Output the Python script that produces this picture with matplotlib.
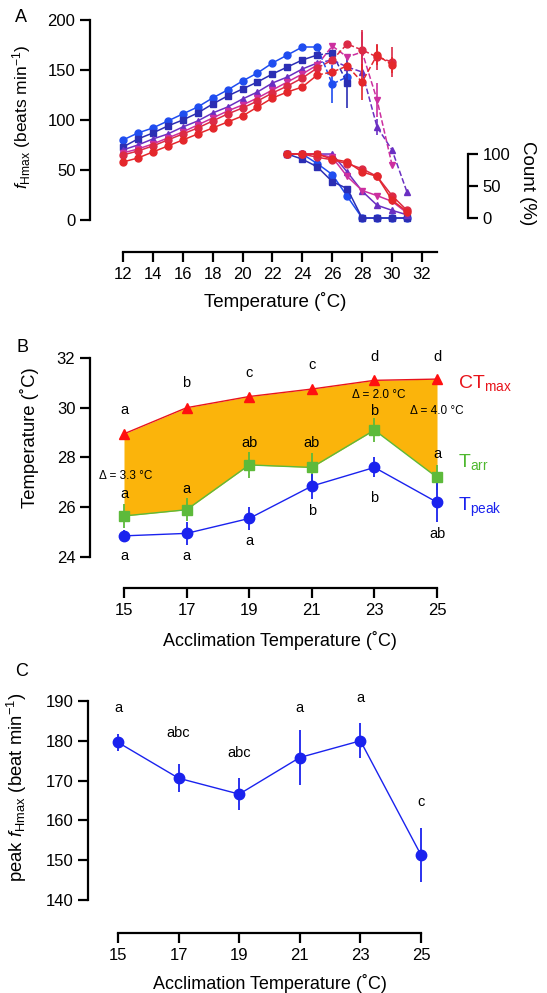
import matplotlib
matplotlib.use('Agg')
import matplotlib.pyplot as plt

plt.rcParams['font.family'] = ['Liberation Sans', 'DejaVu Sans']
plt.rcParams['mathtext.fontset'] = 'custom'
plt.rcParams['mathtext.rm'] = 'Liberation Sans'
plt.rcParams['mathtext.it'] = 'Liberation Sans:italic'
plt.rcParams['font.size'] = 12

# ---- panel A data: fHmax vs test temperature, one series per acclimation temp
temp_15 = [12, 13, 14, 15, 16, 17, 18, 19, 20, 21, 22, 23, 24, 25, 26, 27]
fh_15 = [80, 87, 92, 99, 106, 113, 122, 130, 139, 147, 157, 165, 173, 173, 136, 143]
temp_17 = [12, 13, 14, 15, 16, 17, 18, 19, 20, 21, 22, 23, 24, 25, 26, 27]
fh_17 = [73, 81, 87, 94, 100, 107, 116, 124, 131, 138, 146, 153, 160, 165, 167, 137]
temp_19 = [12, 13, 14, 15, 16, 17, 18, 19, 20, 21, 22, 23, 24, 25, 26, 27, 28, 29, 30, 31]
fh_19 = [70, 75, 81, 86, 93, 99, 107, 113, 121, 128, 137, 143, 151, 157, 160, 153, 148, 93, 70, 28]
temp_21 = [12, 13, 14, 15, 16, 17, 18, 19, 20, 21, 22, 23, 24, 25, 26, 27, 28, 29, 30]
fh_21 = [67, 71, 76, 82, 88, 95, 102, 109, 115, 122, 130, 138, 146, 155, 174, 163, 168, 120, 55]
temp_23 = [12, 13, 14, 15, 16, 17, 18, 19, 20, 21, 22, 23, 24, 25, 26, 27, 28, 29, 30]
fh_23 = [65, 69, 74, 80, 86, 92, 99, 106, 112, 119, 127, 134, 142, 152, 160, 176, 170, 163, 158]
temp_25 = [12, 13, 14, 15, 16, 17, 18, 19, 20, 21, 22, 23, 24, 25, 26, 27, 28, 29, 30]
fh_25 = [58, 62, 68, 74, 80, 86, 92, 98, 104, 113, 122, 128, 133, 145, 148, 154, 138, 165, 155]

# error bars shown only on the high-temperature points
err_t_15, err_15 = [26], [19]
err_t_17, err_17 = [27], [25]
err_t_19, err_19 = [29], [8]
err_t_21, err_21 = [28, 29], [20, 17]
err_t_23, err_23 = [28, 29, 30], [20, 13, 15]
err_t_25, err_25 = [28, 29, 30], [18, 10, 8]

# count (%) of fish still responding
count_temp = [23, 24, 25, 26, 27, 28, 29, 30, 31]
count_15 = [100, 100, 85, 68, 34, 0, 0, 0, 0]
count_17 = [100, 92, 80, 57, 46, 0, 0, 0, 0]
count_19 = [100, 100, 100, 100, 72, 42, 20, 12, 5]
count_21 = [100, 100, 100, 95, 65, 43, 35, 26, 8]
count_23 = [100, 100, 95, 91, 85, 77, 65, 35, 12]
count_25 = [100, 100, 100, 92, 88, 72, 65, 28, 10]

# ---- panel B data
accl = [15, 17, 19, 21, 23, 25]
ctmax = [28.95, 30.0, 30.45, 30.75, 31.1, 31.15]
tarr = [25.65, 25.9, 27.7, 27.6, 29.1, 27.2]
tarr_err = [0.5, 0.47, 0.53, 0.6, 0.47, 0.5]
tpeak = [24.85, 24.95, 25.55, 26.85, 27.6, 26.2]
tpeak_err = [0.25, 0.45, 0.45, 0.5, 0.4, 0.8]
ct_letters = ['a', 'b', 'c', 'c', 'd', 'd']
ct_letter_y = [29.91, 30.98, 31.38, 31.72, 32.05, 32.05]
arr_letters = ['a', 'a', 'ab', 'ab', 'b', 'a']
arr_letter_y = [26.54, 26.73, 28.57, 28.57, 29.87, 28.14]
peak_letters = ['a', 'a', 'a', 'b', 'b', 'ab']
peak_letter_y = [24.06, 24.06, 24.66, 25.83, 26.37, 24.93]
delta_text = ['Δ = 3.3 °C', 'Δ = 2.0 °C', 'Δ = 4.0 °C']
delta_x = [15.05, 23.15, 25.0]
delta_y = [27.25, 30.5, 29.87]

# ---- panel C data
peak_fh = [179.6, 170.6, 166.6, 175.8, 180.0, 151.3]
peak_fh_err = [2.2, 3.5, 4.0, 6.8, 4.4, 6.9]
c_letters = ['a', 'abc', 'abc', 'a', 'a', 'c']
c_letter_y = [188.2, 182.0, 177.0, 188.2, 190.7, 164.6]

colors = ['#1F4DF0', '#2B2EB4', '#6A2FC2', '#CC2F9F', '#DC2A45', '#E4272B']
markers = ['o', 's', '^', 'v', 'o', 'o']
split = 25

fig = plt.figure(figsize=(5.47, 9.93), dpi=100)


def style_axis(ax):
    ax.spines['top'].set_visible(False)
    ax.spines['right'].set_visible(False)
    for s in ['left', 'bottom']:
        ax.spines[s].set_linewidth(1.6)
    ax.tick_params(direction='out', length=7, width=1.6, labelsize=12)


# ---------------- Panel A
axA = fig.add_axes([90 / 547, 1 - 252 / 993, 378 / 547, 237 / 993])
axA.set_xlim(9.8, 35.08)
axA.set_ylim(-32, 205)
style_axis(axA)
axA.spines['left'].set_bounds(0, 200)
axA.spines['bottom'].set_bounds(12, 33)
axA.set_yticks([0, 50, 100, 150, 200])
axA.set_xticks([12, 14, 16, 18, 20, 22, 24, 26, 28, 30, 32])
axA.patch.set_alpha(0)

series = [
    (temp_15, fh_15, err_t_15, err_15, count_15),
    (temp_17, fh_17, err_t_17, err_17, count_17),
    (temp_19, fh_19, err_t_19, err_19, count_19),
    (temp_21, fh_21, err_t_21, err_21, count_21),
    (temp_23, fh_23, err_t_23, err_23, count_23),
    (temp_25, fh_25, err_t_25, err_25, count_25),
]

axA2 = axA.twinx()
axA2.set_ylim(-53.1, 317.3)
axA2.set_xlim(9.8, 35.08)
for s in ['top', 'left', 'bottom']:
    axA2.spines[s].set_visible(False)
axA2.spines['right'].set_bounds(0, 100)
axA2.spines['right'].set_linewidth(1.6)
axA2.set_yticks([0, 50, 100])
axA2.tick_params(direction='out', length=7, width=1.6, labelsize=12)
axA2.set_ylabel('Count (%)', rotation=270, fontsize=13.5)
axA2.yaxis.set_label_coords(1.18, 0.29)

for (t, fh, et, ev, cnt), c, m in zip(series, colors, markers):
    ts = [x for x in t if x <= split]
    fs = fh[:len(ts)]
    td = t[len(ts) - 1:]
    fd = fh[len(ts) - 1:]
    axA.plot(ts, fs, '-', color=c, lw=1.1)
    axA.plot(td, fd, '--', color=c, lw=1.1)
    axA.plot(t, fh, m, color=c, ms=5, mec=c)
    ey = [fh[t.index(x)] for x in et]
    axA.errorbar(et, ey, yerr=ev, fmt='none', ecolor=c, elinewidth=1.2)
    axA2.plot(count_temp, cnt, '-', color=c, lw=1.1, marker=m, ms=5)

axA.set_ylabel(r'$f_{\mathrm{Hmax}}$ (beats min$^{-1}$)', fontsize=12.5)
axA.yaxis.set_label_coords(-0.15, 0.57)
axA.set_xlabel('Temperature (˚C)', fontsize=13.5)
axA.xaxis.set_label_coords(0.489, -0.168)

# ---------------- Panel B
axB = fig.add_axes([90 / 547, 1 - 588 / 993, 378 / 547, 243 / 993])
axB.set_xlim(13.914, 25.99)
axB.set_ylim(22.755, 32.52)
style_axis(axB)
axB.spines['left'].set_bounds(24, 32)
axB.spines['bottom'].set_bounds(15, 25)
axB.set_yticks([24, 26, 28, 30, 32])
axB.set_xticks(accl)

axB.fill_between(accl, tarr, ctmax, color='#FBB40B', lw=0, zorder=1)
axB.plot(accl, ctmax, '-', color='#E8141B', lw=1.0, zorder=3)
axB.plot(accl, ctmax, '^', color='#FF1010', ms=6.5, zorder=4)
axB.errorbar(accl, tarr, yerr=tarr_err, fmt='s-', color='#5DBA3B', ms=7.5,
             lw=1.0, elinewidth=1.3, zorder=3)
axB.errorbar(accl, tpeak, yerr=tpeak_err, fmt='o-', color='#1A22EE', ms=7.5,
             lw=1.0, elinewidth=1.3, zorder=3)

for x, lab, y in zip(accl, ct_letters, ct_letter_y):
    axB.text(x, y, lab, ha='center', va='center', fontsize=10.5)
for x, lab, y in zip(accl, arr_letters, arr_letter_y):
    axB.text(x, y, lab, ha='center', va='center', fontsize=10.5)
for x, lab, y in zip(accl, peak_letters, peak_letter_y):
    axB.text(x, y, lab, ha='center', va='center', fontsize=10.5)
for lab, x, y in zip(delta_text, delta_x, delta_y):
    axB.text(x, y, lab, ha='center', va='center', fontsize=8.5)

axB.text(25.67, 31.0, r'CT$_{\mathrm{max}}$', color='#E8141B', fontsize=14,
         ha='left', va='center', clip_on=False)
axB.text(25.67, 27.8, r'T$_{\mathrm{arr}}$', color='#4FB82F', fontsize=14,
         ha='left', va='center', clip_on=False)
axB.text(25.67, 26.0, r'T$_{\mathrm{peak}}$', color='#1A22EE', fontsize=14,
         ha='left', va='center', clip_on=False)

axB.set_ylabel('Temperature (˚C)', fontsize=13.3)
axB.yaxis.set_label_coords(-0.135, 0.62)
axB.set_xlabel('Acclimation Temperature (˚C)', fontsize=13)
axB.xaxis.set_label_coords(0.503, -0.178)

# ---------------- Panel C
axC = fig.add_axes([88 / 547, 1 - 933 / 993, 380 / 547, 243 / 993])
axC.set_xlim(14.01, 26.55)
axC.set_ylim(131.71, 192.76)
style_axis(axC)
axC.spines['left'].set_bounds(140, 190)
axC.spines['bottom'].set_bounds(15, 25)
axC.set_yticks([140, 150, 160, 170, 180, 190])
axC.set_xticks(accl)
axC.errorbar(accl, peak_fh, yerr=peak_fh_err, fmt='o-', color='#1A22EE', ms=7.5,
             lw=1.0, elinewidth=1.3)
for x, lab, y in zip(accl, c_letters, c_letter_y):
    axC.text(x, y, lab, ha='center', va='center', fontsize=10.5)

axC.set_ylabel(r'peak $f_{\mathrm{Hmax}}$ (beat min$^{-1}$)', fontsize=13.3)
axC.yaxis.set_label_coords(-0.155, 0.6)
axC.set_xlabel('Acclimation Temperature (˚C)', fontsize=13)
axC.xaxis.set_label_coords(0.479, -0.17)

fig.text(15 / 547, 1 - 18 / 993, 'A', fontsize=13, va='center', ha='left')
fig.text(17 / 547, 1 - 348 / 993, 'B', fontsize=13, va='center', ha='left')
fig.text(15 / 547, 1 - 671 / 993, 'C', fontsize=13, va='center', ha='left')

fig.savefig('out.png', dpi=100)
